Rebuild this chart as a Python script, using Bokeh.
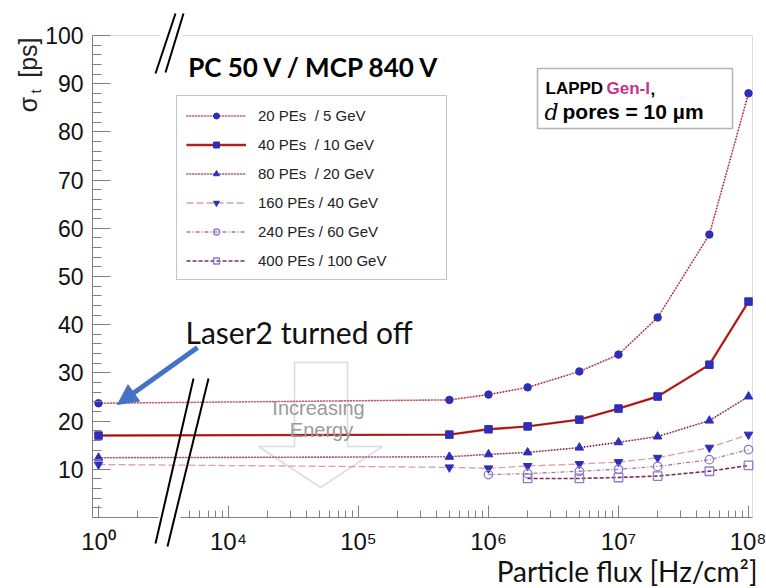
import math
from bokeh.plotting import figure
from bokeh.models import (FixedTicker, Legend, LegendItem, Label, Arrow, NormalHead,
                          PolyAnnotation, BoxAnnotation, Range1d)
from bokeh.embed import file_html
from bokeh.resources import INLINE

# ---------------- data ----------------
flux_main = [1, 5e5, 1e6, 2e6, 5e6, 1e7, 2e7, 5e7, 1e8]          # Hz/cm^2
flux_240 = [1e6, 2e6, 5e6, 1e7, 2e7, 5e7, 1e8]
flux_400 = [2e6, 5e6, 1e7, 2e7, 5e7, 1e8]

sigma_20pe = [23.7, 24.4, 25.5, 27.0, 30.3, 33.8, 41.5, 58.7, 88.0]
sigma_40pe = [17.0, 17.2, 18.3, 18.9, 20.3, 22.6, 25.1, 31.7, 44.8]
sigma_80pe = [12.4, 12.6, 13.1, 13.5, 14.5, 15.6, 16.8, 20.1, 25.1]
sigma_160pe = [11.0, 10.4, 10.2, 10.7, 11.1, 11.5, 12.4, 14.5, 17.2]
sigma_240pe = [8.9, 9.1, 9.6, 10.0, 10.6, 12.0, 14.1]
sigma_400pe = [8.1, 8.1, 8.3, 8.6, 9.6, 10.8]

series_labels = ["20 PEs  / 5 GeV", "40 PEs  / 10 GeV", "80 PEs  / 20 GeV",
                 "160 PEs / 40 GeV", "240 PEs / 60 GeV", "400 PEs / 100 GeV"]

x_tick_values = [1, 1e4, 1e5, 1e6, 1e7, 1e8]
x_tick_labels = ["10\u2070", "10\u2074", "10\u2075", "10\u2076", "10\u2077", "10\u2078"]
y_tick_values = [10, 20, 30, 40, 50, 60, 70, 80, 90, 100]

# broken axis: fluxes below the break are drawn 3 decades to the right
BREAK_AT = 1e3
BREAK_SHIFT = 1e3


def axis_pos(f):
    return f * BREAK_SHIFT if f < BREAK_AT else f


# pixel helpers for annotation placement (plot box: x 92..752, y 35..517)
def px2x(px):
    return 10 ** (4 + (px - 228) / 130.0)


def py2y(py):
    return (517 - py) / 4.82


W, H = 766, 588
p = figure(width=W, height=H, x_axis_type="log",
           x_range=Range1d(px2x(0), px2x(W)), y_range=Range1d(py2y(H), py2y(0)),
           output_backend="svg", toolbar_location=None,
           min_border_left=0, min_border_right=0, min_border_top=0, min_border_bottom=0)
p.grid.visible = False
p.outline_line_color = None
p.background_fill_color = "white"
p.border_fill_color = "white"

# ---------------- axes (pinned inside the canvas) ----------------
xmajor = [int(axis_pos(v)) for v in x_tick_values]
xminor = [2e3, 5e3, 6e3, 7e3, 8e3, 9e3]
for d in range(4, 8):
    xminor += [k * 10 ** d for k in range(2, 10)]
p.xaxis.ticker = FixedTicker(ticks=xmajor, minor_ticks=xminor)
p.xaxis.major_label_overrides = {m: lab for m, lab in zip(xmajor, x_tick_labels)}
p.xaxis.fixed_location = 0
p.xaxis.bounds = (px2x(92), px2x(752))
p.yaxis.ticker = FixedTicker(ticks=y_tick_values,
                             minor_ticks=[v for v in range(2, 100, 2) if v % 10])
p.yaxis.fixed_location = px2x(92)
p.yaxis.bounds = (0, 100)
for ax, tin, mtin, fs, so in ((p.xaxis, 12, 7, "24px", 10), (p.yaxis, 18, 9, "23px", 9)):
    ax.major_tick_in = tin
    ax.major_tick_out = 0
    ax.minor_tick_in = mtin
    ax.minor_tick_out = 0
    ax.axis_line_color = "#808080"
    ax.major_tick_line_color = "#808080"
    ax.minor_tick_line_color = "#808080"
    ax.major_label_text_font = "Liberation Sans"
    ax.major_label_text_font_size = fs
    ax.major_label_text_color = "#111111"
    ax.major_label_standoff = so

# plot box (top and right edges)
p.add_layout(BoxAnnotation(left=px2x(92), right=px2x(752), bottom=0, top=100,
                           fill_alpha=0, line_color="#8c8c8c", line_width=1, level="underlay"))

# ---------------- series ----------------
BLUE = "#2e2eb8"
LAV = "#8a7cd0"
xm = [axis_pos(f) for f in flux_main]
x240 = [axis_pos(f) for f in flux_240]
x400 = [axis_pos(f) for f in flux_400]

items = []
r = [p.line(xm, sigma_20pe, line_color="#f2a4a8", line_width=1.2),
     p.line(xm, sigma_20pe, line_color="#8b1a3a", line_width=1.6, line_dash="1 2"),
     p.scatter(xm, sigma_20pe, marker="circle", size=7.5, fill_color=BLUE, line_color=BLUE)]
items.append(LegendItem(label=series_labels[0], renderers=r))

r = [p.line(xm, sigma_40pe, line_color="#d9302c", line_width=2.4),
     p.line(xm, sigma_40pe, line_color="#6a0c0c", line_width=0.8),
     p.scatter(xm, sigma_40pe, marker="square", size=7.5, fill_color=BLUE, line_color=BLUE)]
items.append(LegendItem(label=series_labels[1], renderers=r))

r = [p.line(xm, sigma_80pe, line_color="#f0b0b8", line_width=1.2),
     p.line(xm, sigma_80pe, line_color="#3a1450", line_width=1.6, line_dash="1 2"),
     p.scatter(xm, sigma_80pe, marker="triangle", size=8.5, fill_color=BLUE, line_color=BLUE)]
items.append(LegendItem(label=series_labels[2], renderers=r))

r = [p.line(xm, sigma_160pe, line_color="#d8a0ac", line_width=1.3, line_dash="7 3"),
     p.scatter(xm, sigma_160pe, marker="inverted_triangle", size=8.5, fill_color=BLUE, line_color=BLUE)]
items.append(LegendItem(label=series_labels[3], renderers=r))

r = [p.line(x240, sigma_240pe, line_color="#b07898", line_width=1.3, line_dash="4 2 1 2"),
     p.scatter(x240, sigma_240pe, marker="circle", size=8.5, fill_color=None, line_color=LAV, line_width=1.3)]
items.append(LegendItem(label=series_labels[4], renderers=r))

r = [p.line(x400, sigma_400pe, line_color="#7a2a60", line_width=1.6, line_dash="4 2"),
     p.scatter(x400, sigma_400pe, marker="square", size=8.5, fill_color=None, line_color=LAV, line_width=1.3)]
items.append(LegendItem(label=series_labels[5], renderers=r))

legend = Legend(items=items, location=(176, H - 280), glyph_width=60, glyph_height=15,
                label_height=20, spacing=9, padding=9, label_standoff=12, label_width=179,
                label_text_font="Liberation Sans", label_text_font_size="15px",
                label_text_color="#222222", border_line_color="#8c8c8c", border_line_width=1,
                background_fill_alpha=1.0, margin=0)
p.add_layout(legend)

# ---------------- annotations ----------------
# Increasing energy block arrow
pts = [(294, 362), (347, 362), (347, 446), (382, 446), (320, 487), (258, 446), (294, 446)]
p.add_layout(PolyAnnotation(xs=[px2x(a) for a, b in pts], ys=[py2y(b) for a, b in pts],
                            fill_alpha=0, line_color="#8f8f8f", line_width=1.6))
for txt, cx, cy in (("Increasing", 318, 407), ("Energy", 321, 429)):
    p.add_layout(Label(x=px2x(cx), y=py2y(cy), text=txt, text_align="center", text_baseline="middle",
                       text_font="Liberation Sans", text_font_size="20px", text_color="#9a9a9a"))

# info box
p.add_layout(BoxAnnotation(left=px2x(537), right=px2x(732), top=py2y(68), bottom=py2y(128),
                           fill_color="white", fill_alpha=1, line_color="black", line_width=1.5))
for txt, cx, col in (("LAPPD", 545, "black"), ("Gen-I", 606, "#c2378a"), (",", 650, "black")):
    p.add_layout(Label(x=px2x(cx), y=py2y(88), text=txt, text_align="left", text_baseline="middle",
                       text_font="Liberation Sans", text_font_style="bold", text_font_size="17px",
                       text_color=col))
p.add_layout(Label(x=px2x(544), y=py2y(112), text="d", text_align="left", text_baseline="middle",
                   text_font="DejaVu Serif", text_font_style="italic", text_font_size="22px",
                   text_color="black"))
p.add_layout(Label(x=px2x(562), y=py2y(111), text="pores = 10 \u00b5m", text_align="left",
                   text_baseline="middle", text_font="Liberation Sans", text_font_style="bold",
                   text_font_size="21px", text_color="black"))

# title
p.add_layout(Label(x=px2x(314), y=py2y(66), text="PC 50 V / MCP 840 V", text_align="center",
                   text_baseline="middle", text_font="Lato", text_font_style="bold",
                   text_font_size="26px", text_color="black"))

# Laser2 annotation
p.add_layout(Label(x=px2x(185), y=py2y(331), text="Laser2 turned off", text_align="left",
                   text_baseline="middle", text_font="Lato", text_font_size="30px",
                   text_color="#111111"))
p.add_layout(Arrow(end=NormalHead(size=20, fill_color="#4472c4", line_color="#4472c4"),
                   x_start=px2x(197), y_start=py2y(347), x_end=px2x(117), y_end=py2y(404),
                   line_color="#4472c4", line_width=5))

# axis titles
p.add_layout(Label(x=px2x(757), y=py2y(570), text="Particle flux [Hz/cm\u00b2]", text_align="right",
                   text_baseline="middle", text_font="Lato", text_font_size="28px",
                   text_color="#111111"))
p.add_layout(Label(x=px2x(27), y=py2y(37), text="[ps]", angle=math.pi / 2, text_align="right",
                   text_baseline="middle", text_font="Liberation Sans", text_font_size="25px",
                   text_color="#222222"))
p.add_layout(Label(x=px2x(35), y=py2y(91), text="t", angle=math.pi / 2, text_align="center",
                   text_baseline="middle", text_font="Liberation Sans", text_font_size="15px",
                   text_color="#222222"))
p.add_layout(Label(x=px2x(27), y=py2y(104), text="\u03c3", angle=math.pi / 2, text_align="center",
                   text_baseline="middle", text_font="Liberation Sans", text_font_size="25px",
                   text_color="#222222"))

# axis break marks
for (x0, x1, y0, y1) in ((158, 180, 512, 522), (160, 182, 31, 39)):
    p.add_layout(PolyAnnotation(xs=[px2x(x0), px2x(x1), px2x(x1), px2x(x0)],
                                ys=[py2y(y0), py2y(y0), py2y(y1), py2y(y1)],
                                fill_color="white", fill_alpha=1, line_color=None))
for (a, b) in (((193, 378), (155, 543)), ((208, 378), (167, 546)),
               ((155, 73), (175, 13)), ((165, 72), (183, 13))):
    p.add_layout(Arrow(start=None, end=None, x_start=px2x(a[0]), y_start=py2y(a[1]),
                       x_end=px2x(b[0]), y_end=py2y(b[1]), line_color="black", line_width=2))

open("out.html", "w").write(file_html(p, INLINE))
